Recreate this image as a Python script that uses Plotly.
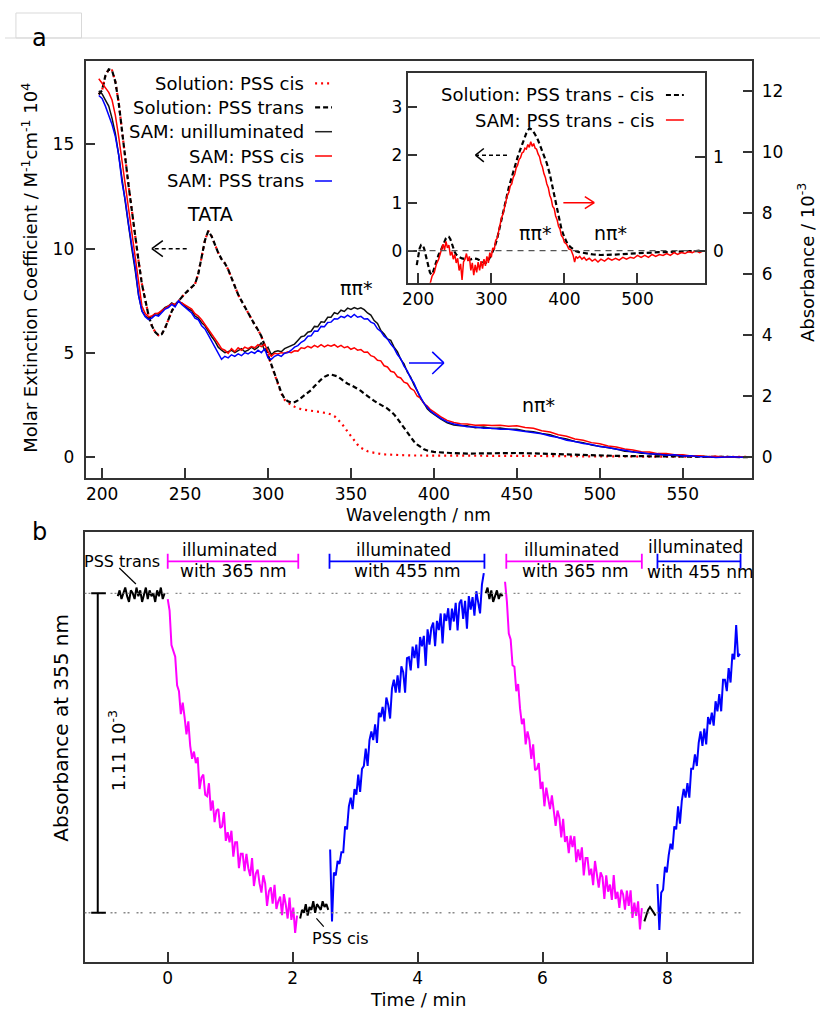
import numpy as np
import plotly.graph_objects as go

FONT = "DejaVu Sans"
W, H = 820, 1010

# ---------------- Panel a: main spectra ----------------
sol_wl = list(range(198, 402, 2)) + list(range(410, 600, 10))
sol_trans = [17.4, 17.6, 18.3, 18.6, 18.55, 18.0, 17.0, 15.6, 14.2, 13.0,
             11.8, 10.5, 9.4, 8.3, 7.5, 6.8, 6.3, 6.0, 5.85, 5.9,
             6.2, 6.6, 7.0, 7.3, 7.5, 7.7, 7.85, 8.0, 8.15, 8.3,
             8.8, 9.6, 10.4, 10.85, 10.6, 10.2, 9.8, 9.5, 9.3, 9.0,
             8.6, 8.2, 7.8, 7.5, 7.2, 6.9, 6.6, 6.35, 6.1, 5.8,
             5.35, 4.9, 4.5, 4.0, 3.5, 3.1, 2.8, 2.68, 2.62, 2.64,
             2.72, 2.85, 3.0, 3.12, 3.22, 3.4, 3.58, 3.72, 3.85, 3.93,
             3.96, 3.93, 3.87, 3.75, 3.62, 3.52, 3.46, 3.38, 3.3, 3.18,
             3.05, 2.92, 2.8, 2.7, 2.6, 2.52, 2.43, 2.33, 2.2, 2.05,
             1.85, 1.62, 1.4, 1.17, 0.95, 0.75, 0.6, 0.48, 0.38, 0.32,
             0.28, 0.25,
             0.2, 0.17, 0.18, 0.2, 0.2, 0.18, 0.15, 0.12, 0.1, 0.08,
             0.06, 0.05, 0.04, 0.03, 0.02, 0.02, 0.01, 0.01, 0.0]
sol_cis = sol_trans[:52] + [
             4.45, 3.95, 3.45, 3.05, 2.75, 2.6, 2.5, 2.42, 2.35,
             2.3, 2.27, 2.24, 2.22, 2.2, 2.18, 2.16, 2.14, 2.1, 2.05,
             1.97, 1.82, 1.65, 1.45, 1.22, 1.0, 0.78, 0.6, 0.45, 0.35,
             0.28, 0.24, 0.2, 0.17, 0.15, 0.13, 0.12, 0.11, 0.1, 0.1,
             0.1, 0.09, 0.09, 0.08, 0.08, 0.08, 0.07, 0.07, 0.07, 0.07,
             0.07,
             0.06, 0.06, 0.06, 0.06, 0.06, 0.05, 0.05, 0.05, 0.04, 0.04,
             0.04, 0.03, 0.03, 0.03, 0.02, 0.02, 0.02, 0.01, 0.01]

sam_wl = list(range(198, 402, 2)) + [404, 408, 412, 416] + list(range(420, 595, 5))
sam_unill = [12.0, 11.9, 11.7, 11.5, 11.1, 10.6, 9.9, 9.1, 8.3, 7.5,
             6.8, 6.1, 5.3, 4.8, 4.62, 4.55, 4.6, 4.7, 4.68, 4.8,
             4.9, 4.95, 5.05, 4.98, 5.1, 5.05, 4.95, 4.85, 4.8, 4.62,
             4.55, 4.4, 4.3, 4.1, 3.95, 3.8, 3.6, 3.5, 3.42, 3.45,
             3.5, 3.42, 3.48, 3.55, 3.45, 3.5, 3.6, 3.52, 3.6, 3.75,
             3.5, 3.6, 3.35, 3.45, 3.48, 3.45, 3.55, 3.6, 3.65, 3.7,
             3.82, 3.94, 3.97, 4.09, 4.12, 4.28, 4.27, 4.43, 4.42, 4.58,
             4.58, 4.73, 4.69, 4.81, 4.77, 4.88, 4.84, 4.9, 4.85, 4.89,
             4.83, 4.72, 4.65, 4.47, 4.38, 4.15, 4.03, 3.87, 3.82, 3.6,
             3.45, 3.2, 3.05, 2.78, 2.62, 2.36, 2.17, 1.91, 1.77, 1.58,
             1.48, 1.4,
             1.25, 1.12, 1.05, 1.02,
             1.02, 0.96, 0.98, 0.93, 0.95, 0.91, 0.91, 0.85, 0.83, 0.77,
             0.73, 0.64, 0.59, 0.51, 0.47, 0.39, 0.35, 0.29, 0.26, 0.19,
             0.17, 0.12, 0.11, 0.07, 0.07, 0.04, 0.05, 0.02, 0.03, 0.0,
             0.01, -0.01, 0.01, 0.0, 0.0]
sam_trans = [11.85, 11.75, 11.5, 11.2, 10.9, 10.5, 9.9, 9.0, 8.4, 7.6,
             6.9, 6.2, 5.3, 4.78, 4.6, 4.5, 4.55, 4.65, 4.62, 4.75,
             4.85, 4.9, 5.0, 4.92, 5.12, 5.0, 4.9, 4.8, 4.72, 4.55,
             4.5, 4.3, 4.2, 4.0, 3.8, 3.6, 3.45, 3.2, 3.3, 3.25,
             3.35, 3.3, 3.38, 3.32, 3.42, 3.38, 3.45, 3.4, 3.5, 3.42,
             3.55, 3.25, 3.2, 3.3, 3.35, 3.3, 3.4, 3.42, 3.5, 3.6,
             3.65, 3.76, 3.82, 3.96, 3.97, 4.13, 4.12, 4.28, 4.27, 4.41,
             4.42, 4.53, 4.52, 4.61, 4.57, 4.65, 4.58, 4.67, 4.58, 4.61,
             4.52, 4.53, 4.42, 4.37, 4.2, 4.12, 3.96, 3.87, 3.7, 3.57,
             3.36, 3.22, 2.98, 2.82, 2.58, 2.42, 2.16, 1.98, 1.76, 1.63,
             1.5, 1.42,
             1.27, 1.15, 1.08, 1.04,
             0.99, 0.98, 0.94, 0.94, 0.91, 0.91, 0.87, 0.85, 0.79, 0.76,
             0.69, 0.64, 0.55, 0.51, 0.44, 0.41, 0.34, 0.31, 0.25, 0.22,
             0.16, 0.15, 0.1, 0.1, 0.06, 0.07, 0.03, 0.04, 0.01, 0.01,
             -0.02, 0.0, 0.01, -0.01, 0.0]
sam_cis = [12.4, 12.25, 12.1, 11.95, 11.7, 11.2, 10.5, 9.7, 8.9, 8.1,
           7.3, 6.5, 5.6, 4.95, 4.7, 4.6, 4.62, 4.7, 4.72, 4.8,
           4.88, 4.95, 5.02, 5.0, 5.08, 5.05, 4.98, 4.9, 4.85, 4.7,
           4.62, 4.5, 4.35, 4.2, 4.05, 3.9, 3.72, 3.55, 3.5, 3.4,
           3.55, 3.45, 3.58, 3.5, 3.6, 3.55, 3.62, 3.58, 3.68, 3.62,
           3.7, 3.45, 3.3, 3.4, 3.38, 3.42, 3.4, 3.45, 3.42, 3.48,
           3.47, 3.58, 3.56, 3.63, 3.58, 3.66, 3.6, 3.68, 3.61, 3.67,
           3.63, 3.68, 3.6, 3.66, 3.58, 3.62, 3.53, 3.58, 3.5, 3.52,
           3.43, 3.44, 3.32, 3.28, 3.17, 3.15, 2.99, 2.95, 2.81, 2.78,
           2.63, 2.59, 2.45, 2.41, 2.25, 2.18, 1.99, 1.93, 1.75, 1.67,
           1.55, 1.48,
           1.32, 1.2, 1.13, 1.09,
           1.08, 1.04, 1.05, 1.03, 1.04, 1.01, 1.02, 0.97, 0.94, 0.86,
           0.82, 0.73, 0.68, 0.59, 0.55, 0.47, 0.43, 0.36, 0.33, 0.26,
           0.23, 0.17, 0.16, 0.11, 0.11, 0.07, 0.07, 0.03, 0.04, 0.01,
           0.02, -0.01, 0.01, 0.0, 0.0]

# ---------------- Panel a: inset difference spectra ----------------
inset_sol = [(198, -0.30), (200, -0.08), (202, 0.05), (204, 0.12), (206, 0.12), (208, 0.05),
             (210, -0.08), (212, -0.22), (214, -0.35), (216, -0.45), (218, -0.50), (220, -0.46),
             (222, -0.36), (224, -0.25), (226, -0.15), (228, -0.08), (230, -0.03), (232, 0.05),
             (234, 0.13), (236, 0.20), (238, 0.26), (240, 0.29), (242, 0.29), (244, 0.24),
             (246, 0.15), (248, 0.05), (250, -0.03), (252, -0.08), (254, -0.11), (256, -0.13),
             (260, -0.16), (264, -0.18), (268, -0.19), (272, -0.18), (276, -0.16), (280, -0.17),
             (284, -0.20), (288, -0.24), (292, -0.26), (296, -0.20), (300, -0.08), (304, 0.05),
             (308, 0.25), (312, 0.50), (316, 0.78), (320, 1.05), (324, 1.32), (328, 1.55),
             (332, 1.75), (336, 1.95), (340, 2.12), (344, 2.30), (348, 2.45), (352, 2.55),
             (356, 2.52), (360, 2.42), (364, 2.30), (368, 2.14), (372, 1.98), (376, 1.82),
             (380, 1.60), (384, 1.30), (388, 1.00), (392, 0.70), (396, 0.45), (400, 0.28),
             (404, 0.15), (408, 0.08), (412, 0.03), (416, -0.01), (420, -0.03), (430, -0.06),
             (440, -0.08), (450, -0.09), (460, -0.09), (470, -0.08), (480, -0.07), (490, -0.06),
             (500, -0.05), (510, -0.05), (520, -0.04), (530, -0.03), (540, -0.03), (550, -0.02),
             (560, -0.02), (570, -0.01), (580, -0.01), (585, 0.0)]
inset_sam = [(216, -0.36), (219, -0.27), (222, -0.23), (225, -0.14), (228, -0.09), (231, -0.01),
             (234, 0.07), (236, 0.01), (238, 0.10), (240, 0.03), (242, 0.06), (244, -0.05),
             (246, -0.01), (248, -0.09), (250, -0.04), (252, -0.13), (254, -0.08), (256, -0.21),
             (258, -0.14), (260, -0.31), (262, -0.12), (264, -0.09), (266, -0.03), (268, -0.11),
             (270, -0.06), (272, -0.21), (274, -0.13), (276, -0.26), (278, -0.15), (280, -0.23),
             (282, -0.12), (284, -0.21), (286, -0.11), (288, -0.19), (290, -0.09), (292, -0.16),
             (294, -0.06), (296, -0.13), (298, -0.02), (300, -0.07), (302, 0.03), (304, 0.01),
             (306, 0.11), (308, 0.13), (310, 0.21), (312, 0.26), (314, 0.35), (316, 0.39),
             (318, 0.47), (320, 0.51), (322, 0.59), (324, 0.62), (326, 0.69), (328, 0.71),
             (330, 0.78), (332, 0.81), (334, 0.88), (336, 0.91), (338, 0.97), (340, 0.99),
             (342, 1.04), (344, 1.05), (346, 1.09), (348, 1.08), (350, 1.13), (352, 1.10),
             (354, 1.16), (356, 1.11), (358, 1.14), (360, 1.09), (362, 1.08), (364, 1.03),
             (366, 1.00), (368, 0.93), (370, 0.89), (372, 0.82), (374, 0.78), (376, 0.71),
             (378, 0.67), (380, 0.59), (382, 0.55), (384, 0.47), (386, 0.45), (388, 0.37),
             (390, 0.33), (392, 0.26), (394, 0.23), (396, 0.16), (398, 0.14), (400, 0.09),
             (403, 0.07), (406, 0.02), (409, 0.01), (412, -0.05), (414, -0.12), (416, -0.06),
             (418, -0.08), (421, -0.06), (424, -0.09), (427, -0.07), (430, -0.10), (434, -0.08),
             (438, -0.11), (442, -0.09), (446, -0.12), (450, -0.09), (455, -0.11), (460, -0.08),
             (465, -0.10), (470, -0.08), (475, -0.10), (480, -0.07), (485, -0.09), (490, -0.07),
             (495, -0.08), (500, -0.05), (505, -0.07), (510, -0.05), (515, -0.07), (520, -0.04),
             (525, -0.06), (530, -0.04), (535, -0.05), (540, -0.03), (545, -0.05), (550, -0.02),
             (555, -0.04), (560, -0.02), (565, -0.03), (570, -0.01), (575, -0.02), (580, 0.00),
             (585, -0.02), (590, 0.00)]

# ---------------- Panel b: kinetics at 355 nm (absorbance, 10^-3), sampled every 0.03 min ----------------
T_STEP = 0.03
pss_trans1_start = -0.80
pss_trans1 = [1.10, 1.12, 1.09, 1.11, 1.13, 1.10, 1.08, 1.12, 1.11, 1.09, 1.13, 1.10, 1.12,
              1.08, 1.11, 1.13, 1.09, 1.12, 1.10, 1.11, 1.08, 1.12, 1.10, 1.13, 1.09, 1.11]
uv1_start = 0.0
uv1 = [1.09, 1.05, 0.93, 0.91, 0.89, 0.79, 0.77, 0.69, 0.73, 0.68,
       0.62, 0.665, 0.58, 0.535, 0.56, 0.52, 0.54, 0.43, 0.47, 0.48,
       0.41, 0.405, 0.45, 0.355, 0.39, 0.315, 0.355, 0.36, 0.295, 0.30,
       0.35, 0.25, 0.28, 0.245, 0.285, 0.195, 0.245, 0.245, 0.155, 0.205,
       0.205, 0.145, 0.205, 0.155, 0.128, 0.19, 0.093, 0.136, 0.15, 0.102,
       0.07, 0.13, 0.102, 0.024, 0.075, 0.088, 0.032, 0.097, 0.013, 0.04,
       0.056, -0.008, 0.065, 0.028, -0.02, 0.053, -0.025, 0.018, -0.07, -0.01]
pss_cis1_start = 2.12
pss_cis1 = [-0.02, 0.01, 0.0, 0.03, -0.01, 0.02, 0.01, 0.04, 0.0, 0.03, 0.02, 0.01, 0.04, 0.02, 0.03, 0.01]
vis1_start = 2.60
vis1 = [0.22, -0.03, 0.14, 0.13, 0.18, 0.17, 0.21, 0.21, 0.30, 0.29,
        0.37, 0.40, 0.36, 0.43, 0.41, 0.48, 0.42, 0.50, 0.51, 0.57,
        0.51, 0.60, 0.63, 0.60, 0.655, 0.59, 0.695, 0.68, 0.715, 0.665,
        0.748, 0.722, 0.675, 0.78, 0.81, 0.765, 0.825, 0.765, 0.856, 0.836,
        0.765, 0.885, 0.888, 0.842, 0.925, 0.885, 0.932, 0.85, 0.958, 0.926,
        0.962, 0.858, 0.985, 0.932, 0.99, 1.008, 0.926, 1.014, 0.982, 1.04,
        0.936, 1.04, 1.014, 1.058, 0.982, 1.057, 1.012, 1.077, 0.981, 1.075,
        1.088, 1.021, 1.084, 0.987, 1.10, 1.053, 1.097, 1.032, 1.117, 1.083,
        1.04, 1.14, 1.18]
pss_trans2_start = 5.09
pss_trans2 = [1.11, 1.13, 1.09, 1.12, 1.08, 1.10, 1.12, 1.09, 1.11, 1.10]
uv2_start = 5.40
uv2 = [1.15, 1.08, 0.97, 0.95, 0.86, 0.855, 0.77, 0.795, 0.71, 0.655,
       0.675, 0.585, 0.63, 0.60, 0.535, 0.585, 0.495, 0.50, 0.52, 0.43,
       0.455, 0.37, 0.435, 0.40, 0.36, 0.408, 0.345, 0.302, 0.355, 0.33,
       0.262, 0.326, 0.246, 0.266, 0.207, 0.268, 0.228, 0.266, 0.176, 0.22,
       0.183, 0.227, 0.13, 0.19, 0.19, 0.13, 0.153, 0.096, 0.18, 0.123,
       0.087, 0.14, 0.124, 0.048, 0.13, 0.073, 0.098, 0.045, 0.131, 0.048,
       0.073, 0.017, 0.08, 0.064, 0.011, 0.077, 0.024, 0.078, -0.018, 0.035,
       -0.011, 0.04, -0.058, 0.016]
pss_cis2_start = 7.63
pss_cis2 = [-0.03, -0.01, 0.01, 0.02, 0.01, 0.0, -0.01]
vis2_start = 7.84
vis2 = [0.10, -0.06, 0.07, 0.08, 0.16, 0.14, 0.20, 0.24, 0.22, 0.30,
        0.29, 0.37, 0.31, 0.39, 0.43, 0.40, 0.45, 0.40, 0.50, 0.50,
        0.55, 0.51, 0.59, 0.63, 0.58, 0.64, 0.585, 0.68, 0.655, 0.695,
        0.65, 0.735, 0.70, 0.76, 0.70, 0.81, 0.81, 0.77, 0.85, 0.80,
        0.90, 0.88, 1.00, 0.89, 0.90]

pss_levels = [1.11, 0.0]
illum_bars = [(0.0, 2.09, "#ff00ff", "with 365 nm"), (2.59, 5.07, "#0000ff", "with 455 nm"),
              (5.42, 7.59, "#ff00ff", "with 365 nm"), (7.84, 9.17, "#0000ff", "with 455 nm")]

assert len(sol_cis) == len(sol_trans) == len(sol_wl)
assert len(sam_unill) == len(sam_trans) == len(sam_cis) == len(sam_wl)


def px(x):
    return x / W


def py(y):
    return 1 - y / H


fig = go.Figure()

# main spectra: solution on left axis, SAM on right axis
fig.add_trace(go.Scatter(x=sol_wl, y=sol_cis, mode="lines", xaxis="x", yaxis="y",
                         line=dict(color="#ff0000", width=2.2, dash="2px,4px")))
fig.add_trace(go.Scatter(x=sol_wl, y=sol_trans, mode="lines", xaxis="x", yaxis="y",
                         line=dict(color="#000000", width=2.2, dash="5px,3px")))
fig.add_trace(go.Scatter(x=sam_wl, y=sam_unill, mode="lines", xaxis="x", yaxis="y2",
                         line=dict(color="#111111", width=1.5)))
fig.add_trace(go.Scatter(x=sam_wl, y=sam_cis, mode="lines", xaxis="x", yaxis="y2",
                         line=dict(color="#ff0000", width=1.5)))
fig.add_trace(go.Scatter(x=sam_wl, y=sam_trans, mode="lines", xaxis="x", yaxis="y2",
                         line=dict(color="#0000ff", width=1.5)))

# inset
iw, iv = zip(*inset_sol)
fig.add_trace(go.Scatter(x=list(iw), y=list(iv), mode="lines", xaxis="x2", yaxis="y3",
                         line=dict(color="#000000", width=2.2, dash="5px,3px")))
sw, sv = zip(*inset_sam)
fig.add_trace(go.Scatter(x=list(sw), y=list(sv), mode="lines", xaxis="x2", yaxis="y4",
                         line=dict(color="#ff0000", width=1.5)))

# kinetics
segments = [(pss_trans1_start, pss_trans1, "#000000"), (uv1_start, uv1, "#ff00ff"),
            (pss_cis1_start, pss_cis1, "#000000"), (vis1_start, vis1, "#0000ff"),
            (pss_trans2_start, pss_trans2, "#000000"), (uv2_start, uv2, "#ff00ff"),
            (pss_cis2_start, pss_cis2, "#000000"), (vis2_start, vis2, "#0000ff")]
for start, vals, col in segments:
    t = np.round(start + T_STEP * np.arange(len(vals)), 3)
    fig.add_trace(go.Scatter(x=t, y=vals, mode="lines", xaxis="x3", yaxis="y5",
                             line=dict(color=col, width=2)))

AX = "#333333"
tickfont = dict(family=FONT, size=17, color="black")
common = dict(showgrid=False, zeroline=False, showline=True, linecolor=AX, linewidth=1.8,
              ticks="inside", ticklen=10, tickwidth=1.5, tickcolor=AX, tickfont=tickfont)

fig.update_layout(
    width=W, height=H, margin=dict(l=0, r=0, t=0, b=0), autosize=False,
    paper_bgcolor="white", plot_bgcolor="white", showlegend=False,
    font=dict(family=FONT, color="black"),
    xaxis=dict(domain=[px(81), px(752)], range=[190, 592], anchor="y",
               tickvals=[200, 250, 300, 350, 400, 450, 500, 550], mirror=True, **common),
    yaxis=dict(domain=[py(478), py(61)], range=[-1, 19], anchor="x",
               tickvals=[0, 5, 10, 15], ticklabelstandoff=6, **common),
    yaxis2=dict(overlaying="y", side="right", anchor="x", range=[-0.689, 12.98],
                tickvals=[0, 2, 4, 6, 8, 10, 12], ticklabelstandoff=4, **common),
    xaxis2=dict(domain=[px(405), px(704)], range=[185.4, 592], anchor="y3",
                tickvals=[200, 300, 400, 500], mirror=True, **common),
    yaxis3=dict(domain=[py(282.7), py(73.3)], range=[-0.667, 3.696], anchor="x2",
                tickvals=[0, 1, 2, 3], **common),
    yaxis4=dict(overlaying="y3", side="right", anchor="x2", range=[-0.340, 1.887],
                tickvals=[0, 1], ticklabelstandoff=3, **common),
    xaxis3=dict(domain=[px(80), px(752)], range=[-1.332, 9.36], anchor="y5",
                tickvals=[0, 2, 4, 6, 8], mirror=True, **common),
    yaxis5=dict(domain=[py(961.7), py(531.7)], range=[-0.170, 1.324], anchor="x3",
                showgrid=False, zeroline=False, showline=True, linecolor=AX, linewidth=1.8,
                mirror=True, showticklabels=False, ticks=""),
)

shapes = []
annots = []


def text(x, y, s, size=17, xanchor="center", angle=0):
    annots.append(dict(x=px(x), y=py(y), xref="paper", yref="paper", text=s, showarrow=False,
                       xanchor=xanchor, yanchor="middle", textangle=angle,
                       font=dict(family=FONT, size=size, color="black")))


def pline(x0, y0, x1, y1, color, width=1.5, dash="solid"):
    shapes.append(dict(type="line", xref="paper", yref="paper", x0=px(x0), y0=py(y0),
                       x1=px(x1), y1=py(y1), line=dict(color=color, width=width, dash=dash)))


def dline(xr, yr, x0, y0, x1, y1, color, width=1.5, dash="solid"):
    shapes.append(dict(type="line", xref=xr, yref=yr, x0=x0, y0=y0, x1=x1, y1=y1,
                       line=dict(color=color, width=width, dash=dash)))


# screenshot frame artefacts at top-left
shapes.append(dict(type="rect", xref="paper", yref="paper", x0=px(11), y0=py(38), x1=px(77), y1=py(13),
                   line=dict(color="#d9d9d9", width=1)))
pline(0, 38, 820, 38, "#d9d9d9", 1)

# panel labels
text(35, 38, "a", size=24)
text(35, 532, "b", size=24)

# axis titles
text(25, 268, "Molar Extinction Coefficient / M<sup>-1</sup>cm<sup>-1</sup> 10<sup>4</sup>", size=18, angle=-90)
text(806, 263, "Absorbance / 10<sup>-3</sup>", size=18, angle=-90)
text(416, 515, "Wavelength / nm", size=17)
text(416, 999, "Time / min", size=18)
text(56, 728, "Absorbance at 355 nm", size=20, angle=-90)

# main legend
legend_rows = [("Solution: PSS cis", "#ff0000", "2px,4px", 83.3, 2.2),
               ("Solution: PSS trans", "#000000", "5px,3px", 107.3, 2.2),
               ("SAM: unilluminated", "#222222", "solid", 131.7, 1.5),
               ("SAM: PSS cis", "#ff0000", "solid", 156, 1.5),
               ("SAM: PSS trans", "#0000ff", "solid", 181, 1.5)]
for s, col, dash, yy, wdt in legend_rows:
    text(303, yy, s, size=18, xanchor="right")
    pline(312, yy, 329, yy, col, wdt, dash)

# inset legend
inset_rows = [("Solution: PSS trans - cis", "#000000", "5px,3px", 95, 2.2),
              ("SAM: PSS trans - cis", "#ff0000", "solid", 120, 1.5)]
for s, col, dash, yy, wdt in inset_rows:
    text(655, yy, s, size=18, xanchor="right")
    pline(665, yy, 683, yy, col, wdt, dash)

# labels in spectra
text(206, 214, "TATA", size=19)
text(353, 288, "ππ*", size=19)
text(537, 405, "nπ*", size=19)
text(533, 233, "ππ*", size=19)
text(609, 233, "nπ*", size=19)

# arrows main (left: dashed black, right: blue)
dline("x", "y", 251, 10.0, 230.5, 10.0, "black", 1.5, "4px,3px")
dline("x", "y", 236.6, 10.38, 230, 10.0, "black", 1.5)
dline("x", "y", 236.6, 9.62, 230, 10.0, "black", 1.5)
dline("x", "y", 385, 4.52, 406, 4.52, "#0000ff", 1.5)
dline("x", "y", 399, 5.05, 406, 4.52, "#0000ff", 1.5)
dline("x", "y", 399, 3.99, 406, 4.52, "#0000ff", 1.5)
# arrows inset
dline("x2", "y3", 321.5, 1.99, 279, 1.99, "black", 1.5, "4px,3px")
dline("x2", "y3", 289.8, 2.13, 278.4, 1.99, "black", 1.5)
dline("x2", "y3", 289.8, 1.85, 278.4, 1.99, "black", 1.5)
dline("x2", "y3", 398.6, 1.0, 440.8, 1.0, "#ff0000", 1.5)
dline("x2", "y3", 428, 1.125, 440.8, 1.0, "#ff0000", 1.5)
dline("x2", "y3", 428, 0.875, 440.8, 1.0, "#ff0000", 1.5)
# inset zero line
dline("x2", "y3", 185.4, 0, 592, 0, "#555555", 1.2, "6px,5px")

# kinetics decorations
for lev in pss_levels:
    dline("x3", "y5", -1.332, lev, 9.26, lev, "#888888", 1.3, "2px,2px,2px,7px")
dline("x3", "y5", -1.12, 0, -1.12, 1.11, "black", 2)
dline("x3", "y5", -1.225, 0, -0.99, 0, "black", 2)
dline("x3", "y5", -1.225, 1.11, -0.99, 1.11, "black", 2)
text(113, 751, "1.11 10<sup>-3</sup>", size=18, angle=-90)

BAR_Y, CAP = 1.221, 0.026
for t0, t1, col, lab in illum_bars:
    dline("x3", "y5", t0, BAR_Y, t1, BAR_Y, col, 1.8)
    dline("x3", "y5", t0, BAR_Y - CAP, t0, BAR_Y + CAP, col, 1.8)
    dline("x3", "y5", t1, BAR_Y - CAP, t1, BAR_Y + CAP, col, 1.8)
    xc = 163.7 + (t0 + t1) / 2 * 62.85
    if t1 > 9:
        text(xc - 4, 547, "illuminated", size=17)
        text(xc + 2, 572, lab, size=17)
    else:
        text(xc - 3, 550, "illuminated", size=17)
        text(xc + 1, 571, lab, size=17)

text(118, 561, "PSS trans", size=16)
pline(115, 568, 131.7, 584, "black", 1.2)
text(338, 938, "PSS cis", size=16)
pline(313.3, 918.3, 320.7, 926.7, "black", 1.2)

fig.update_layout(shapes=shapes, annotations=annots)
fig.write_html("out.html")
